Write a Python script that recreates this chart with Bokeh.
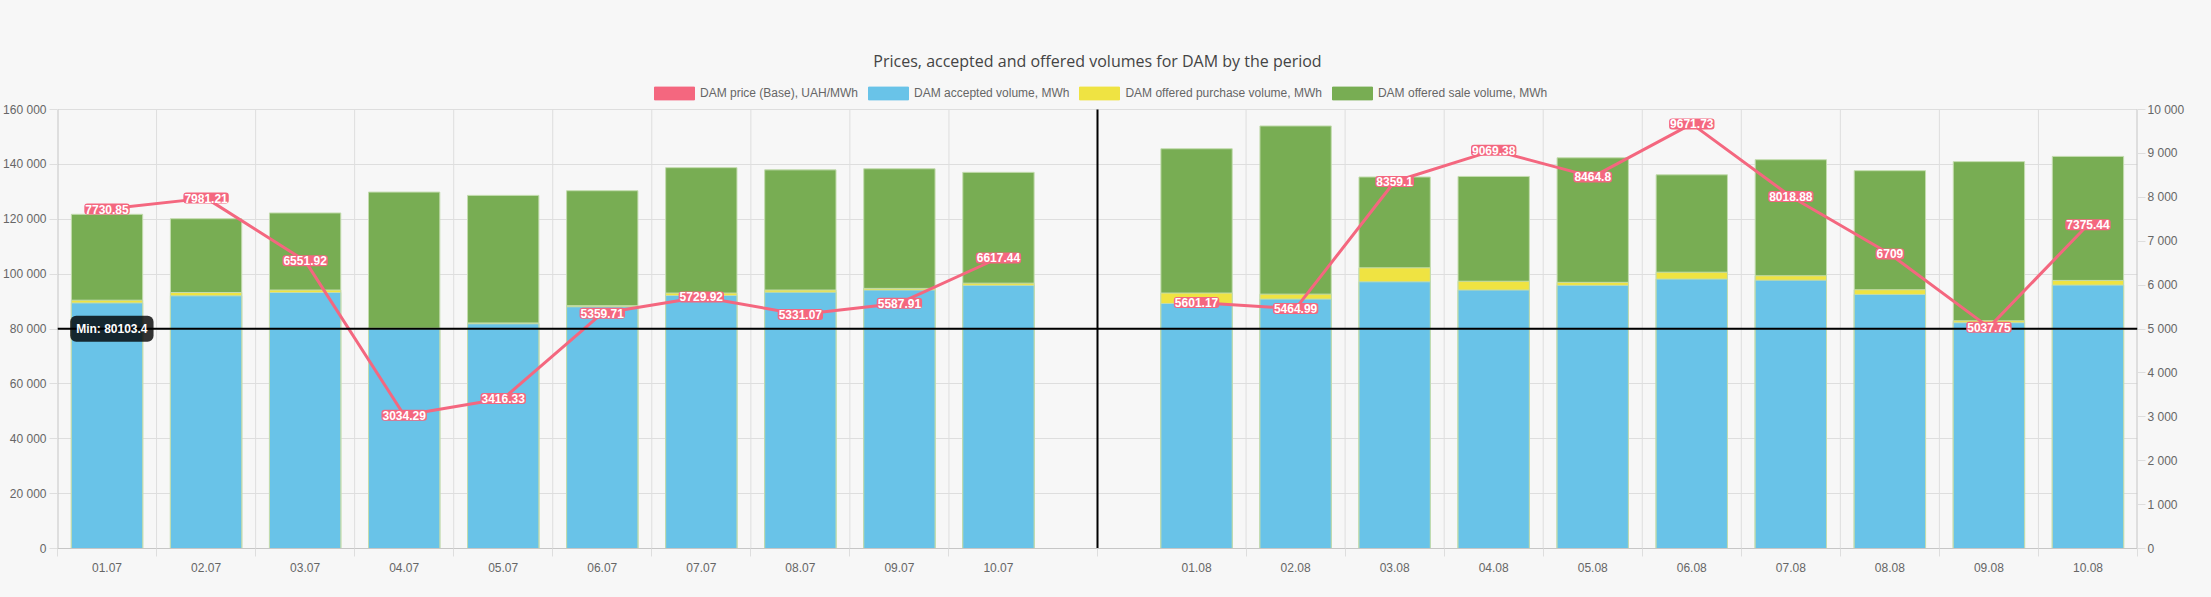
import math
from bokeh.plotting import figure
from bokeh.models import ColumnDataSource, Range1d, LinearAxis, FixedTicker, Span, Legend, LegendItem
from bokeh.core.properties import value
from bokeh.embed import file_html
from bokeh.resources import INLINE

# ---------------- data ----------------
categories = ["01.07", "02.07", "03.07", "04.07", "05.07", "06.07", "07.07", "08.07", "09.07", "10.07",
              "",
              "01.08", "02.08", "03.08", "04.08", "05.08", "06.08", "07.08", "08.08", "09.08", "10.08"]
price = [7730.85, 7981.21, 6551.92, 3034.29, 3416.33, 5359.71, 5729.92, 5331.07, 5587.91, 6617.44,
         float("nan"),
         5601.17, 5464.99, 8359.1, 9069.38, 8464.8, 9671.73, 8018.88, 6709, 5037.75, 7375.44]
accepted = [89500, 92100, 93300, 80103.4, 81900, 88100, 92200, 93400, 94200, 95900,
            float("nan"),
            89300, 90900, 97200, 94200, 95900, 98200, 97800, 92600, 82300, 96000]
purchase = [90500, 93300, 94200, 80300, 82200, 88500, 93100, 94200, 94800, 96700,
            float("nan"),
            93100, 92700, 102300, 97400, 97000, 100700, 99400, 94300, 83000, 97700]
sale = [121800, 120200, 122300, 129900, 128700, 130400, 138800, 138000, 138400, 137100,
        float("nan"),
        145700, 154000, 135400, 135600, 142400, 136200, 141700, 137700, 141000, 142900]
left_ticks = [0, 20000, 40000, 60000, 80000, 100000, 120000, 140000, 160000]
right_ticks = [0, 1000, 2000, 3000, 4000, 5000, 6000, 7000, 8000, 9000, 10000]

series_names = ["DAM price (Base), UAH/MWh", "DAM accepted volume, MWh",
                "DAM offered purchase volume, MWh", "DAM offered sale volume, MWh"]
title_text = "Prices, accepted and offered volumes for DAM by the period"

# ---------------- styles / layout ----------------
PINK = "#f4677f"
BLUE = "#69c3e8"
YELLOW = "#efe342"
GREEN = "#78ad53"
EDGE = "#c3dcae"
BG = "#f7f7f7"
GRID = "#dedede"
AXIS = "#c6c6c6"
TXT = "#666666"
FONT = "Liberation Sans"

FIG_W, FIG_H = 2195, 589
B_LEFT, B_RIGHT, B_TOP, B_BOTTOM = 54, 58, 80, 41
FRAME_H = FIG_H - B_TOP - B_BOTTOM      # drawable frame (includes legend strip)
PLOT_H = 439                             # height of the value area inside the frame

n = len(categories)
centers = [i + 0.5 for i in range(n)]
have = [i for i, c in enumerate(categories) if c]
gaps = [i for i, c in enumerate(categories) if not c]

y_top = left_ticks[-1]
p_top = right_ticks[-1]
y_max = y_top * FRAME_H / PLOT_H
p_max = p_top * FRAME_H / PLOT_H

bars = ColumnDataSource(dict(
    x=[centers[i] for i in have],
    accepted=[accepted[i] for i in have],
    purchase=[purchase[i] for i in have],
    sale=[sale[i] for i in have],
))
pts = ColumnDataSource(dict(
    x=[centers[i] for i in have],
    y=[price[i] for i in have],
    t=[f"{price[i]:g}" for i in have],
))
line_src = ColumnDataSource(dict(x=centers, y=price))

grid_ticks = [k for k in range(n + 1) if not any(k in (g, g + 1) for g in gaps)] + [g + 0.5 for g in gaps]
grid_ticks = sorted(grid_ticks)

p = figure(width=FIG_W, height=FIG_H, output_backend="svg", toolbar_location=None,
           x_range=Range1d(0, n), y_range=Range1d(0, y_max),
           min_border_left=B_LEFT, min_border_right=B_RIGHT, min_border_top=B_TOP,
           min_border_bottom=B_BOTTOM)
p.extra_y_ranges = {"price": Range1d(0, p_max)}
p.background_fill_color = BG
p.border_fill_color = BG
p.outline_line_color = None

# title
p.title.text = title_text
p.title.align = "center"
p.title.text_font = "Open Sans"
p.title.text_font_size = "16px"
p.title.text_font_style = "normal"
p.title.text_color = "#444444"
p.title.standoff = 18

# x axis carrying the grid tick marks
xa = p.xaxis[0]
xa.ticker = FixedTicker(ticks=grid_ticks)
xa.major_label_overrides = {t: "" for t in grid_ticks}
xa.major_label_standoff = 0
xa.major_tick_out = 8
xa.major_tick_in = 0
xa.major_tick_line_color = GRID
xa.minor_tick_line_color = None
xa.axis_line_color = AXIS
p.xgrid.visible = False

# x axis with category labels
xl = LinearAxis(ticker=FixedTicker(ticks=[centers[i] for i in have]),
                major_label_overrides={centers[i]: categories[i] for i in have})
xl.axis_line_color = None
xl.major_tick_line_color = None
xl.minor_tick_line_color = None
xl.major_tick_out = 0
xl.major_tick_in = 0
xl.major_label_standoff = 6
xl.major_label_text_font = FONT
xl.major_label_text_font_size = "12px"
xl.major_label_text_color = TXT
p.add_layout(xl, "below")

# left axis
ya = p.yaxis[0]
ya.ticker = FixedTicker(ticks=left_ticks)
ya.major_label_overrides = {v: f"{v:,}".replace(",", " ") for v in left_ticks}
ya.major_tick_out = 8
ya.major_tick_in = 0
ya.major_tick_line_color = GRID
ya.minor_tick_line_color = None
ya.axis_line_color = None
ya.major_label_standoff = 3
ya.major_label_text_font = FONT
ya.major_label_text_font_size = "12px"
ya.major_label_text_color = TXT
p.ygrid[0].ticker = FixedTicker(ticks=left_ticks)
p.ygrid[0].grid_line_color = GRID

# right axis
yr = LinearAxis(y_range_name="price", ticker=FixedTicker(ticks=right_ticks),
                major_label_overrides={v: f"{v:,}".replace(",", " ") for v in right_ticks})
yr.major_tick_out = 8
yr.major_tick_in = 0
yr.major_tick_line_color = GRID
yr.minor_tick_line_color = None
yr.axis_line_color = None
yr.major_label_standoff = 2
yr.major_label_text_font = FONT
yr.major_label_text_font_size = "12px"
yr.major_label_text_color = TXT
p.add_layout(yr, "right")

# vertical grid lines limited to the value area
inner = [t for t in grid_ticks if 0 < t < n]
p.segment(x0=inner, y0=[0] * len(inner), x1=inner, y1=[y_top] * len(inner),
          line_color=GRID, line_width=1)
# axis borders limited to the value area
p.segment(x0=[0, n], y0=[0, 0], x1=[0, n], y1=[y_top, y_top], line_color=AXIS, line_width=2)

# bars (overlaid)
W = 0.72
rs = p.vbar(x="x", top="sale", width=W, source=bars, fill_color=GREEN, line_color=EDGE, line_width=1)
rp = p.vbar(x="x", top="purchase", width=W, source=bars, fill_color=YELLOW, line_color=EDGE, line_width=1)
ra = p.vbar(x="x", top="accepted", width=W, source=bars, fill_color=BLUE, line_color=EDGE, line_width=1)

# price line
rl = p.line(x="x", y="y", source=line_src, y_range_name="price", line_color=PINK, line_width=3)

# min line and period separator
valid_acc = [a for a in accepted if not math.isnan(a)]
min_val = min(valid_acc)
p.add_layout(Span(location=min_val, dimension="width", line_color="black", line_width=2))
sep = [g + 0.5 for g in gaps]
p.segment(x0=sep, y0=[0] * len(sep), x1=sep, y1=[y_top] * len(sep), line_color="black", line_width=2)

# price labels
p.text(x="x", y="y", text="t", source=pts, y_range_name="price",
       text_font=value(FONT), text_font_size="12px", text_font_style="bold",
       text_color="white", text_align="center", text_baseline="middle",
       background_fill_color=PINK, border_radius=3, padding=1, level="overlay")

# min label
p.text(x=[0.128], y=[min_val], text=[f"Min: {min_val:g}"],
       text_font=value(FONT), text_font_size="12px", text_font_style="bold",
       text_color="white", text_align="left", text_baseline="middle",
       background_fill_color="black", background_fill_alpha=0.8, border_radius=6, padding=6,
       level="overlay")

# legend swatches (box style, drawn off-range so only the legend shows them)
sw_src = ColumnDataSource(dict(x=[-5], top=[0]))
k0 = p.vbar(x="x", top="top", width=1, source=sw_src, fill_color=PINK, line_color=PINK)
k1 = p.vbar(x="x", top="top", width=1, source=sw_src, fill_color=BLUE, line_color=BLUE)
k2 = p.vbar(x="x", top="top", width=1, source=sw_src, fill_color=YELLOW, line_color=YELLOW)
k3 = p.vbar(x="x", top="top", width=1, source=sw_src, fill_color=GREEN, line_color=GREEN)
legend = Legend(items=[LegendItem(label=series_names[0], renderers=[k0]),
                       LegendItem(label=series_names[1], renderers=[k1]),
                       LegendItem(label=series_names[2], renderers=[k2]),
                       LegendItem(label=series_names[3], renderers=[k3])],
                orientation="horizontal", location=(592, PLOT_H + 8))
legend.glyph_width = 50
legend.glyph_height = 16
legend.label_height = 16
legend.label_standoff = 1
legend.spacing = 5
legend.padding = 0
legend.margin = 0
legend.label_text_font = FONT
legend.label_text_font_size = "12px"
legend.label_text_color = TXT
legend.background_fill_alpha = 0
legend.border_line_color = None
p.add_layout(legend)

html = file_html(p, INLINE)
html = html.replace("<head>", "<head><style>html,body{background:#f7f7f7;}</style>", 1)
open("out.html", "w").write(html)
